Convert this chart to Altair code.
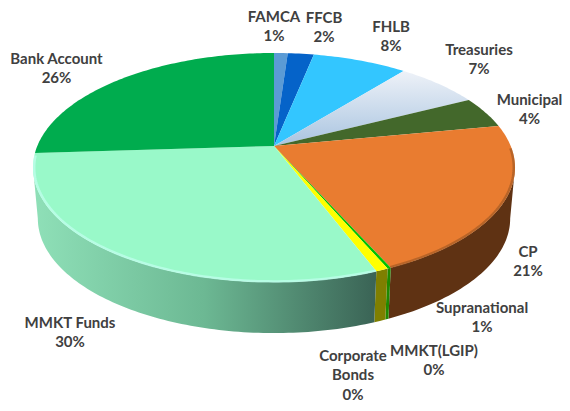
import math
import altair as alt
import pandas as pd

# slice shares, clockwise from twelve o'clock
names = ["FAMCA", "FFCB", "FHLB", "Treasuries", "Municipal", "CP", "MMKT(LGIP)",
         "Supranational", "Corporate Bonds", "MMKT Funds", "Bank Account"]
shares = [1.1, 2.1, 7.6, 6.75, 4.45, 21.3, 0.2, 0.7, 0.0, 29.8, 26.0]
top_fill = ["#5b9bd5", "#0563c9", "#33c6ff", None, "#43682b", "#e97c30", "#00c000",
            "#ffff00", "#a5a5a5", "#99f9c9", "#00ac4e"]
wall_fill = ["#2f5f8a", "#033a78", "#1e7699", "#7f8fa0", "#283e1a", "#5f3213", "#1f8a00",
             "#7f7f00", "#636363", None, "#006a30"]

# labels
label_lines = [["FAMCA", "1%"], ["FFCB", "2%"], ["FHLB", "8%"], ["Treasuries", "7%"],
               ["Municipal", "4%"], ["CP", "21%"], ["MMKT(LGIP)", "0%"],
               ["Supranational", "1%"], ["Corporate", "Bonds", "0%"],
               ["MMKT Funds", "30%"], ["Bank Account", "26%"]]
label_x = [274, 324, 391, 479, 529.5, 528, 434, 482, 353, 70, 56.5]
label_y = [16.5, 17.5, 26.5, 49.5, 99.5, 251.5, 350.5, 307.5, 355.5, 322.5, 58.5]

# view of the disc
CX, CY = 274.0, 146.0
A, B, K = 236.7, 110.5, 0.188
DEPTH, SHRINK = 51.0, 0.98


def rim(theta_deg, lower=False, inset=1.0):
    t = math.radians(theta_deg)
    u, v = math.sin(t), math.cos(t)
    w = 1 + K * v
    x = A * inset * u / w
    y = B * inset * v / w
    if lower:
        return CX + SHRINK * x, CY - y + DEPTH
    return CX + x, CY - y


def frange(a, b, step=1.0):
    n = max(1, int(abs(b - a) / step))
    return [a + (b - a) * i / n for i in range(n + 1)]


X = alt.X("x:Q", scale=alt.Scale(domain=[8, 562], range=[0, 554], nice=False, zero=False), axis=None)
Y = alt.Y("y:Q", scale=alt.Scale(domain=[403, 8], range=[395, 0], nice=False, zero=False), axis=None)


def shape(points, **mark):
    df = pd.DataFrame({"x": [p[0] for p in points], "y": [p[1] for p in points],
                       "o": list(range(len(points)))})
    return alt.Chart(df).mark_line(interpolate="linear", **mark).encode(
        x=X, y=Y, order="o:Q")


treasury_grad = alt.Gradient(gradient="linear", x1=0, y1=0, x2=0, y2=1,
                             stops=[alt.GradientStop(color="#eef2f8", offset=0),
                                    alt.GradientStop(color="#a9c4e0", offset=1)])
mmkt_wall = alt.Gradient(gradient="linear", x1=0, y1=0, x2=1, y2=0,
                         stops=[alt.GradientStop(color="#8fe0b8", offset=0),
                                alt.GradientStop(color="#6cb893", offset=0.5),
                                alt.GradientStop(color="#3a6355", offset=1)])

layers = []
vis_lo = math.degrees(math.acos(-K))
vis_hi = 360 - vis_lo
cum = 0.0
spans = []
for s in shares:
    spans.append((cum * 3.6, (cum + s) * 3.6))
    cum += s

# side wall
for i, (a, b) in enumerate(spans):
    lo, hi = max(a, vis_lo), min(b, vis_hi)
    if hi <= lo:
        continue
    angles = frange(lo, hi)
    pts = [rim(t) for t in angles] + [rim(t, lower=True) for t in reversed(angles)]
    pts.append(pts[0])
    paint = wall_fill[i] if wall_fill[i] else mmkt_wall
    layers.append(shape(pts, fill=paint, strokeWidth=0))

# top face
for i, (a, b) in enumerate(spans):
    if b <= a:
        continue
    pts = [(CX, CY)] + [rim(t) for t in frange(a, b)] + [(CX, CY)]
    paint = top_fill[i] if top_fill[i] else treasury_grad
    layers.append(shape(pts, fill=paint, strokeWidth=0))

# bevel along the front edge
a, b = spans[9]
layers.append(shape([rim(t, inset=0.995) for t in frange(a, min(b, vis_hi + 6))],
                    stroke="#c2fff0", strokeWidth=2.5, opacity=0.7))
a, b = spans[5]
layers.append(shape([rim(t, inset=0.995) for t in frange(a + 12, b)],
                    stroke="#9a5522", strokeWidth=2.5, opacity=0.6))

# labels
rows = []
for lines, lx, ly in zip(label_lines, label_x, label_y):
    for j, line in enumerate(lines):
        rows.append({"x": lx, "y": ly + j * 19.5, "t": line})
layers.append(alt.Chart(pd.DataFrame(rows)).mark_text(
    font="Lato", fontSize=15, fontWeight="bold", color="#404040",
    align="center", baseline="middle").encode(x=X, y=Y, text="t:N"))

chart = alt.layer(*layers).properties(
    width=554, height=395, padding=0, autosize=alt.AutoSizeParams(type="none"), background="white"
).configure_view(stroke=None)

chart.save("out.html", embed_options={"renderer": "svg", "actions": False})
